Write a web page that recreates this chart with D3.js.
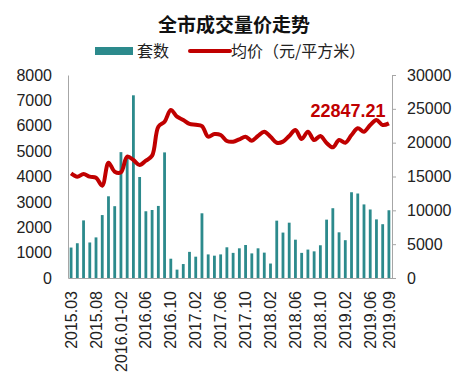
<!DOCTYPE html>
<html>
<head>
<meta charset="utf-8">
<script src="https://cdn.jsdelivr.net/npm/d3@7"></script>
<style>
  body { margin: 0; background: #fff; }
  .axis text { font-family: "Liberation Sans", Arial, sans-serif; font-size: 16px; fill: #222; }
  .axis path, .axis line { stroke: #a6a6a6; }
</style>
</head>
<body>
<div class="chart"></div>
<script>
// categories (months), note some months are merged / missing in the source
var months = [
  "2015.03", "2015.04", "2015.05", "2015.06", "2015.08", "2015.09", "2015.10", "2015.11",
  "2016.01-02", "2016.03", "2016.04", "2016.05", "2016.06", "2016.07", "2016.08", "2016.09",
  "2016.10", "2016.11", "2016.12", "2017.01", "2017.02", "2017.03", "2017.04", "2017.05",
  "2017.06", "2017.07", "2017.08", "2017.09", "2017.10", "2017.11", "2017.12", "2018.01",
  "2018.02", "2018.03", "2018.04", "2018.05", "2018.06", "2018.07", "2018.08", "2018.09",
  "2018.10", "2018.11", "2018.12", "2019.01", "2019.02", "2019.03", "2019.04", "2019.05",
  "2019.06", "2019.07", "2019.08", "2019.09"
];

// 套数
var volume = [
  1200, 1370, 2270, 1400, 1600, 2480, 3220, 2830,
  4960, 4750, 7200, 3980, 2630, 2680, 2840, 4950,
  760, 330, 550, 1030, 840, 2550, 930, 880,
  930, 1210, 990, 1170, 1300, 970, 1170, 1000,
  570, 2260, 1790, 2180, 1510, 990, 1120, 1050,
  1290, 2300, 2750, 1800, 1490, 3380, 3330, 2900,
  2700, 2310, 2120, 2670
];

// 均价（元/平方米）
var price = [
  15450, 14970, 15370, 14970, 14820, 13640, 17040, 15710,
  15620, 17930, 17440, 16700, 17340, 18080, 22360, 23100,
  24830, 23840, 23350, 22760, 22650, 22460, 20880, 21280,
  21130, 20250, 20150, 20500, 20880, 20290, 20990, 21620,
  20880, 19990, 20150, 20990, 21870, 20540, 21620, 20390,
  20990, 19950, 19310, 20390, 19990, 21130, 22120, 21620,
  22610, 23350, 22610, 22847.21
];

var leftTicks = [0, 1000, 2000, 3000, 4000, 5000, 6000, 7000, 8000];
var rightTicks = [0, 5000, 10000, 15000, 20000, 25000, 30000];
var shownMonths = ["2015.03", "2015.08", "2016.01-02", "2016.06", "2016.10", "2017.02",
  "2017.06", "2017.10", "2018.02", "2018.06", "2018.10", "2019.02", "2019.06", "2019.09"];

var svgWidth = 468;
var svgHeight = 389;
var margin = { top: 75, right: 76, bottom: 111, left: 68 };
var width = svgWidth - margin.left - margin.right;
var height = svgHeight - margin.top - margin.bottom;

var barColor = "#2c8a8c";
var lineColor = "#c00000";

var svg = d3.select(".chart")
  .append("svg")
  .attr("width", svgWidth)
  .attr("height", svgHeight);

// title + legend
svg.append("text")
  .attr("x", 234)
  .attr("y", 32)
  .attr("text-anchor", "middle")
  .attr("font-family", "'Noto Sans CJK SC', sans-serif")
  .attr("font-weight", "bold")
  .attr("font-size", "19px")
  .attr("fill", "#111")
  .text("全市成交量价走势");

var legend = svg.append("g").attr("font-family", "'Noto Sans CJK SC', sans-serif").attr("font-size", "16px").attr("fill", "#222");
legend.append("rect").attr("x", 95).attr("y", 47).attr("width", 38).attr("height", 8).attr("fill", barColor);
legend.append("text").attr("x", 137).attr("y", 57).text("套数");
legend.append("line").attr("x1", 190).attr("x2", 230).attr("y1", 51).attr("y2", 51)
  .attr("stroke", lineColor).attr("stroke-width", 4).attr("stroke-linecap", "round");
legend.append("text").attr("x", 231).attr("y", 57).text("均价（元/平方米）");

var chartGroup = svg.append("g")
  .attr("transform", `translate(${margin.left}, ${margin.top})`);

var xScale = d3.scaleBand()
  .domain(months)
  .range([0, width])
  .paddingInner(0.55)
  .paddingOuter(0.27);

var yLeft = d3.scaleLinear().domain([0, 8000]).range([height, 0]);
var yRight = d3.scaleLinear().domain([0, 30000]).range([height, 0]);

// bars
chartGroup.selectAll(".bar")
  .data(volume)
  .enter()
  .append("rect")
  .attr("class", "bar")
  .attr("x", (d, i) => xScale(months[i]))
  .attr("y", (d) => yLeft(d))
  .attr("width", xScale.bandwidth())
  .attr("height", (d) => height - yLeft(d))
  .attr("fill", barColor);

// axes
var leftAxis = d3.axisLeft(yLeft).tickValues(leftTicks).tickSize(0).tickPadding(16).tickFormat(d3.format("d"));
chartGroup.append("g").attr("class", "axis").call(leftAxis);

var rightAxis = d3.axisRight(yRight).tickValues(rightTicks).tickSizeInner(4).tickSizeOuter(0).tickPadding(11).tickFormat(d3.format("d"));
chartGroup.append("g").attr("class", "axis").attr("transform", `translate(${width}, 0)`).call(rightAxis);

var bottomAxis = d3.axisBottom(xScale).tickValues(shownMonths).tickSize(0).tickSizeOuter(0);
var xAxis = chartGroup.append("g")
  .attr("class", "axis")
  .attr("transform", `translate(0, ${height})`)
  .call(bottomAxis);
xAxis.selectAll("text")
  .attr("transform", "rotate(-90)")
  .attr("x", -13)
  .attr("y", 0)
  .attr("dy", "0.35em")
  .style("text-anchor", "end");

// price line
var line = d3.line()
  .x((d, i) => xScale(months[i]) + xScale.bandwidth() / 2)
  .y((d) => yRight(d))
  .curve(d3.curveCatmullRom);

chartGroup.append("path")
  .datum(price)
  .attr("d", line)
  .attr("fill", "none")
  .attr("stroke", lineColor)
  .attr("stroke-width", 4)
  .attr("stroke-linejoin", "round");

// last value label
var last = price.length - 1;
chartGroup.append("text")
  .attr("x", xScale(months[last]) - 2)
  .attr("y", yRight(price[last]) - 6)
  .attr("text-anchor", "end")
  .attr("font-family", "'Liberation Sans', Arial, sans-serif")
  .attr("font-weight", "bold")
  .attr("font-size", "18px")
  .attr("fill", lineColor)
  .text(d3.format(".2f")(price[last]));
</script>
</body>
</html>
